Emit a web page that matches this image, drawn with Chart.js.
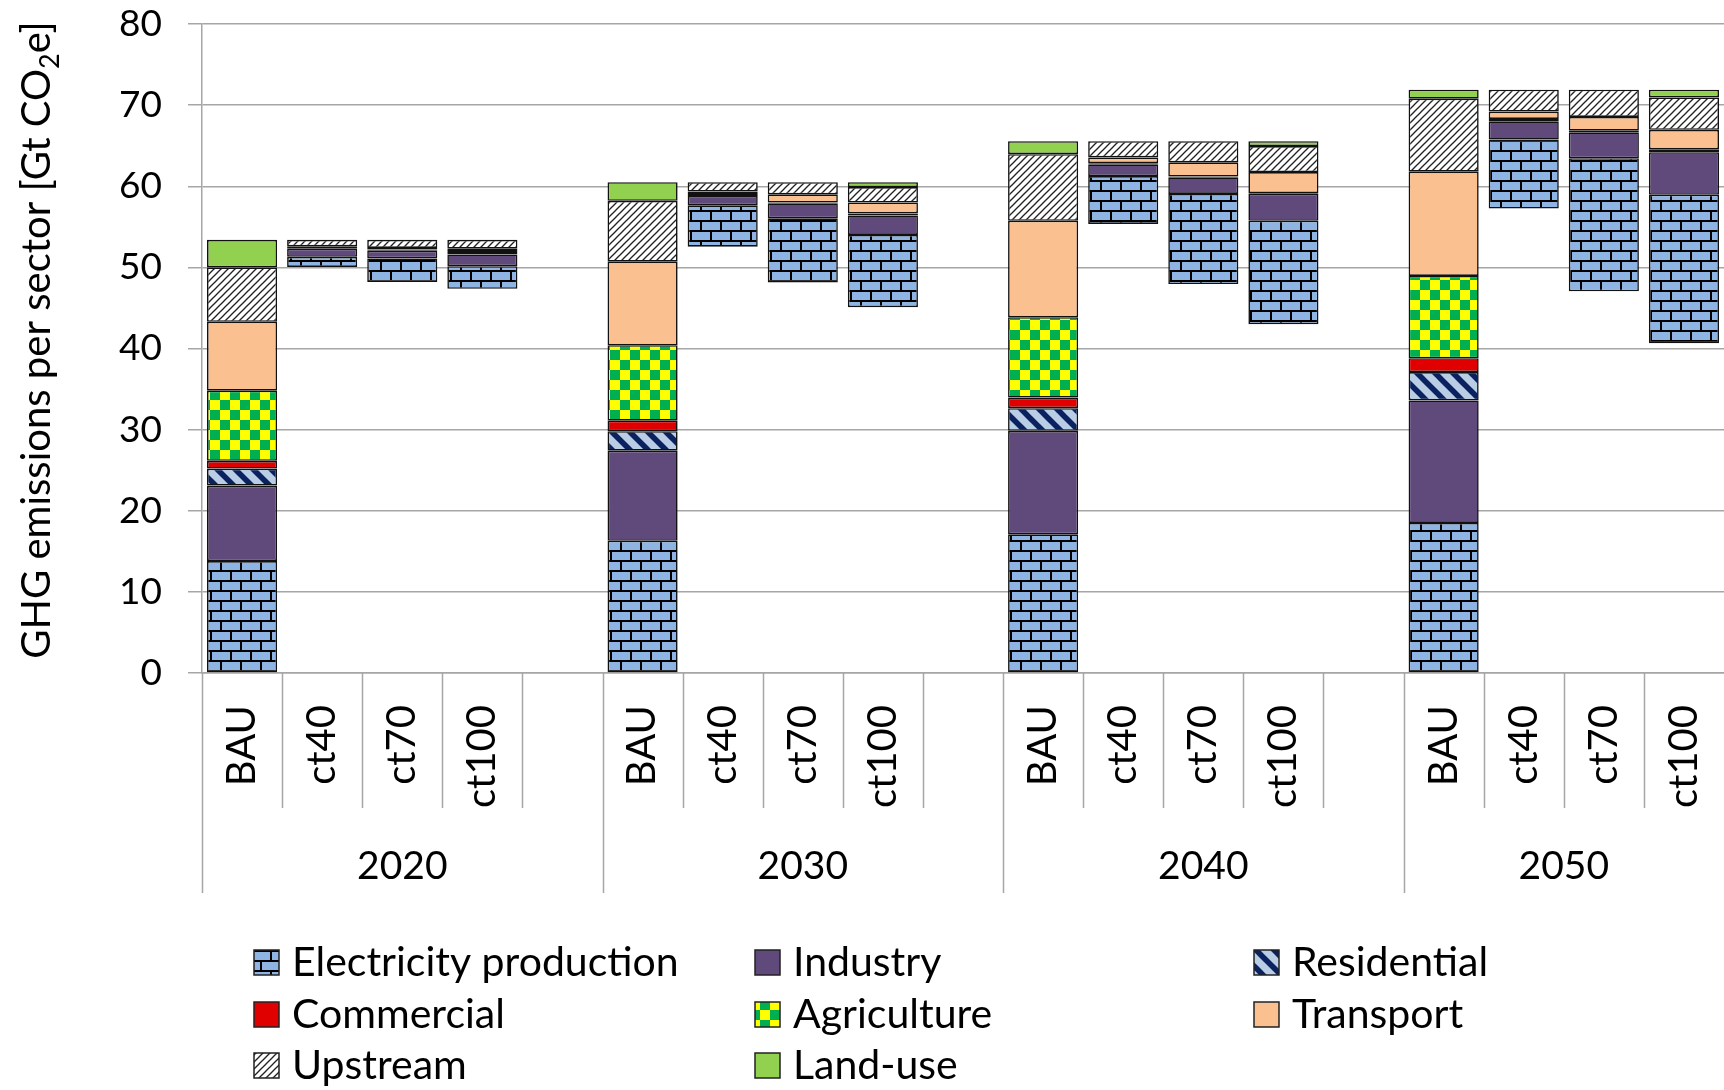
<!DOCTYPE html>
<html>
<head>
<meta charset="utf-8">
<script src="https://cdn.jsdelivr.net/npm/chart.js@4.4.1/dist/chart.umd.min.js"></script>
<style>
  html, body { margin: 0; padding: 0; background: #fff; }
  #wrap { width: 1724px; height: 1090px; }
</style>
</head>
<body>
<div id="wrap"><canvas id="chart" width="1724" height="1090"></canvas></div>
<script>
// Chart data
const years = ['2020', '2030', '2040', '2050'];
const scenarios = ['BAU', 'ct40', 'ct70', 'ct100'];
const sectorNames = ['Electricity production', 'Industry', 'Residential', 'Commercial',
                     'Agriculture', 'Transport', 'Upstream', 'Land-use'];
const yTicks = [0, 10, 20, 30, 40, 50, 60, 70, 80];

// 16 values per sector, per year: BAU, ct40, ct70, ct100
// BAU = emissions, ct* = reduction compared to BAU (Gt CO2e)
const electricity = [13.8, 1.25, 2.9, 2.8, 16.3, 5.1, 7.9, 8.9, 17.1, 5.9, 11.1, 12.75, 18.5, 8.5, 16.4, 18.3];
const industry    = [9.3, 1.0, 0.95, 1.45, 11.1, 1.15, 1.85, 2.4, 12.75, 1.45, 2.05, 3.3, 15.1, 2.25, 3.2, 5.25];
const residential = [2.1, 0.2, 0.15, 0.3, 2.4, 0.25, 0.1, 0.25, 2.8, 0.15, 0.1, 0.1, 3.5, 0.3, 0.2, 0.35];
const commercial  = [0.95, 0, 0, 0, 1.3, 0, 0, 0, 1.3, 0, 0, 0, 1.7, 0, 0, 0];
const agriculture = [8.65, 0, 0, 0, 9.3, 0, 0, 0, 9.9, 0, 0, 0, 10.15, 0, 0, 0];
const transport   = [8.5, 0.1, 0.2, 0.4, 10.3, 0.3, 1.0, 1.35, 11.9, 0.7, 1.75, 2.6, 12.85, 0.9, 1.7, 2.4];
const upstream    = [6.7, 0.8, 1.0, 1.1, 7.5, 1.15, 1.5, 1.9, 8.2, 2.0, 2.6, 3.2, 9.0, 2.7, 3.35, 4.0];
const landUse     = [3.4, 0, 0, 0, 2.3, 0, 0, 0.6, 1.6, 0, 0, 0.6, 1.1, 0, 0, 0.95];

const sectorValues = [electricity, industry, residential, commercial, agriculture, transport, upstream, landUse];

const FONT = 'Lato, "Open Sans", sans-serif';

/* ---------- fill patterns ---------- */
function makeTile(w, h, draw) {
    const c = document.createElement('canvas');
    c.width = w; c.height = h;
    const g = c.getContext('2d');
    draw(g, w, h);
    return document.getElementById('chart').getContext('2d').createPattern(c, 'repeat');
}

const brick = makeTile(20, 20, (g) => {
    g.fillStyle = '#8EB4E3';
    g.fillRect(0, 0, 20, 20);
    g.fillStyle = '#000';
    g.fillRect(0, 0, 20, 2);
    g.fillRect(0, 10, 20, 2);
    g.fillRect(0, 0, 2, 10);
    g.fillRect(10, 10, 2, 10);
});

const stripes = makeTile(18, 18, (g) => {
    g.fillStyle = '#B9CDE5';
    g.fillRect(0, 0, 18, 18);
    g.strokeStyle = '#0B2260';
    g.lineWidth = 5.5;
    for (const k of [-18, 0, 18]) {
        g.beginPath();
        g.moveTo(k - 2, -2);
        g.lineTo(k + 20, 20);
        g.stroke();
    }
});

const checker = makeTile(20, 20, (g) => {
    g.fillStyle = '#FFFF00';
    g.fillRect(0, 0, 20, 20);
    g.fillStyle = '#00B050';
    g.fillRect(0, 0, 10, 10);
    g.fillRect(10, 10, 10, 10);
});

const hatch = makeTile(7, 7, (g) => {
    g.fillStyle = '#fff';
    g.fillRect(0, 0, 7, 7);
    g.strokeStyle = '#222';
    g.lineWidth = 1.3;
    for (const k of [-7, 0, 7]) {
        g.beginPath();
        g.moveTo(k - 1, 8);
        g.lineTo(k + 8, -1);
        g.stroke();
    }
});

const fills = [brick, '#604A7B', stripes, '#E00000', checker, '#FAC090', hatch, '#92D050'];

/* ---------- categories & floating bars ---------- */
const labels = [];
years.forEach((y, i) => {
    scenarios.forEach(s => labels.push(s));
    if (i < years.length - 1) labels.push('');
});

function sumAt(b) {
    return sectorValues.reduce((acc, arr) => acc + arr[b], 0);
}

const datasets = sectorNames.map((name, k) => {
    const data = labels.map(() => null);
    for (let b = 0; b < 16; b++) {
        const g = Math.floor(b / 4), s = b % 4;
        const cat = g * 5 + s;
        // BAU starts at 0, the ct bars hang down from the BAU total
        let base = s === 0 ? 0 : sumAt(g * 4) - sumAt(b);
        for (let j = 0; j < k; j++) base += sectorValues[j][b];
        const v = sectorValues[k][b];
        if (v > 0) data[cat] = [base, base + v];
    }
    return {
        label: name,
        data: data,
        backgroundColor: fills[k],
        borderColor: '#111',
        borderWidth: 1.6,
        borderSkipped: false,
        barPercentage: 0.875,
        categoryPercentage: 1.0
    };
});

// keep the plot area where it is in the original (no extra label padding)
function noPadding(scale) {
    scale.paddingTop = 0;
    scale.paddingBottom = 0;
    scale.paddingLeft = 0;
    scale.paddingRight = 0;
}

/* ---------- extra drawing: category separators, years, legend, y title ---------- */
const decorations = {
    id: 'decorations',
    afterDraw(chart) {
        const ctx = chart.ctx;
        const area = chart.chartArea;
        const step = (area.right - area.left) / labels.length;

        ctx.save();
        ctx.strokeStyle = '#A6A6A6';
        ctx.lineWidth = 1.5;
        for (let i = 0; i < labels.length; i++) {
            const x = Math.round(area.left + i * step) + 0.5;
            const isGroup = i % 5 === 0;
            ctx.beginPath();
            ctx.moveTo(x, area.bottom);
            ctx.lineTo(x, isGroup ? 893 : 808);
            ctx.stroke();
        }

        // year labels
        ctx.fillStyle = '#000';
        ctx.font = '39px ' + FONT;
        ctx.textAlign = 'center';
        ctx.textBaseline = 'middle';
        years.forEach((y, i) => {
            const x0 = area.left + i * 5 * step;
            const x1 = Math.min(area.right, x0 + 5 * step);
            ctx.fillText(y, (x0 + x1) / 2, 866);
        });

        // legend
        const cols = [254, 755, 1254];
        const rows = [962, 1014, 1065];
        ctx.textAlign = 'left';
        ctx.font = '41px ' + FONT;
        sectorNames.forEach((name, k) => {
            const x = cols[k % 3], y = rows[Math.floor(k / 3)];
            ctx.fillStyle = fills[k];
            ctx.fillRect(x, y - 12, 25, 25);
            ctx.strokeStyle = '#222';
            ctx.lineWidth = 1.5;
            ctx.strokeRect(x, y - 12, 25, 25);
            ctx.fillStyle = '#000';
            ctx.fillText(name, x + 38, y + 1);
        });

        // y axis title with subscript
        const main = 'GHG emissions per sector [Gt CO';
        ctx.translate(37, 340);
        ctx.rotate(-Math.PI / 2);
        ctx.font = '40px ' + FONT;
        const w1 = ctx.measureText(main).width;
        ctx.font = '27px ' + FONT;
        const w2 = ctx.measureText('2').width;
        ctx.font = '40px ' + FONT;
        const w3 = ctx.measureText('e]').width;
        let tx = -(w1 + w2 + w3) / 2;
        ctx.textBaseline = 'alphabetic';
        ctx.fillText(main, tx, 13);
        tx += w1;
        ctx.font = '27px ' + FONT;
        ctx.fillText('2', tx, 22);
        tx += w2;
        ctx.font = '40px ' + FONT;
        ctx.fillText('e]', tx, 13);
        ctx.restore();
    }
};

new Chart(document.getElementById('chart'), {
    type: 'bar',
    data: { labels: labels, datasets: datasets },
    options: {
        responsive: false,
        animation: false,
        layout: { padding: { top: 24, right: 0, bottom: 0, left: 0 } },
        scales: {
            x: {
                stacked: true,
                grid: { display: false },
                border: { color: '#A6A6A6', width: 1.5 },
                ticks: {
                    autoSkip: false,
                    minRotation: 90,
                    maxRotation: 90,
                    padding: 24,
                    color: '#000',
                    font: { family: FONT, size: 40 }
                },
                afterFit: (scale) => { scale.height = 417; noPadding(scale); }
            },
            y: {
                min: yTicks[0],
                max: yTicks[yTicks.length - 1],
                afterBuildTicks: (scale) => { scale.ticks = yTicks.map(v => ({ value: v })); },
                grid: { color: '#A6A6A6', lineWidth: 1.5, tickLength: 14 },
                border: { color: '#A6A6A6', width: 1.5 },
                ticks: {
                    padding: 26,
                    color: '#000',
                    font: { family: FONT, size: 37 }
                },
                afterFit: (scale) => { scale.width = 202; noPadding(scale); }
            }
        },
        plugins: {
            legend: { display: false },
            tooltip: { enabled: false }
        }
    },
    plugins: [decorations]
});
</script>
</body>
</html>
